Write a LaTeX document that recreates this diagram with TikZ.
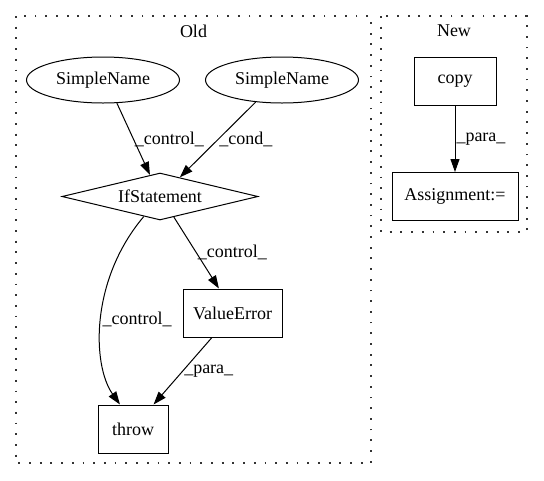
\documentclass[tikz,border=0pt]{standalone}
\usepackage{fontspec}
\setmainfont{Liberation Serif}
\usetikzlibrary{shapes.geometric,arrows.meta}

\begin{document}
\begin{tikzpicture}[x=1pt,y=-1pt,
    >={Triangle[length=13pt,width=9pt]},
    every node/.style={font=\fontsize{18}{20}\selectfont},
    cluster/.style={draw=black!80,line width=1.2pt,dash pattern=on 1.8pt off 8.9pt},
    ell/.style={draw,ellipse,line width=1pt,inner sep=0pt,minimum width=153pt,minimum height=46pt},
    box/.style={draw,rectangle,line width=1pt,inner sep=0pt,minimum height=48pt},
    cond/.style={draw,diamond,line width=1pt,inner sep=0pt,shape aspect=4.17,minimum width=196pt,minimum height=47pt},
    edge/.style={->,line width=1pt},
    lbl/.style={anchor=west,inner sep=1pt}]
        \useasboundingbox (0,0) rectangle (544,480);
        % clusters
        \draw[cluster] (16,16) rectangle (371,463);
        \draw[cluster] (381,16) rectangle (527,232);
        \node (old) at (193.5,31) {Old};
        \node (new) at (454,31) {New};
        % old
        \node[ell] (sn1) at (103,80) {SimpleName};
        \node[ell] (sn2) at (282,80) {SimpleName};
        \node[cond] (ifs) at (160,196.5) {IfStatement};
        \node[box,minimum width=99pt] (ve) at (232.5,313) {ValueError};
        \node[box,minimum width=70pt] (throw) at (133,429) {throw};
        \draw[edge] (sn1.-59) -- (ifs.115) node[lbl,midway] (l1) {\_control\_};
        \draw[edge] (sn2.-140) -- (ifs.44) node[lbl,midway] (l2) {\_cond\_};
        \draw[edge] (ifs.-56) -- (ve.119) node[lbl,midway] (l3) {\_control\_};
        \draw[edge] (ifs.231) .. controls (90,280) and (92,365) .. (throw.118) node[lbl,pos=0.5] (l4) {\_control\_};
        \draw[edge] (ve.230) -- (throw.50) node[lbl,midway] (l5) {\_para\_};
        % new
        \node[box,minimum width=82pt] (copy) at (455,81) {copy};
        \node[box,minimum width=126pt] (asg) at (455,196.5) {Assignment:=};
        \draw[edge] (copy) -- (asg) node[lbl,midway] (l6) {\_para\_};
    \end{tikzpicture}
\end{document}
